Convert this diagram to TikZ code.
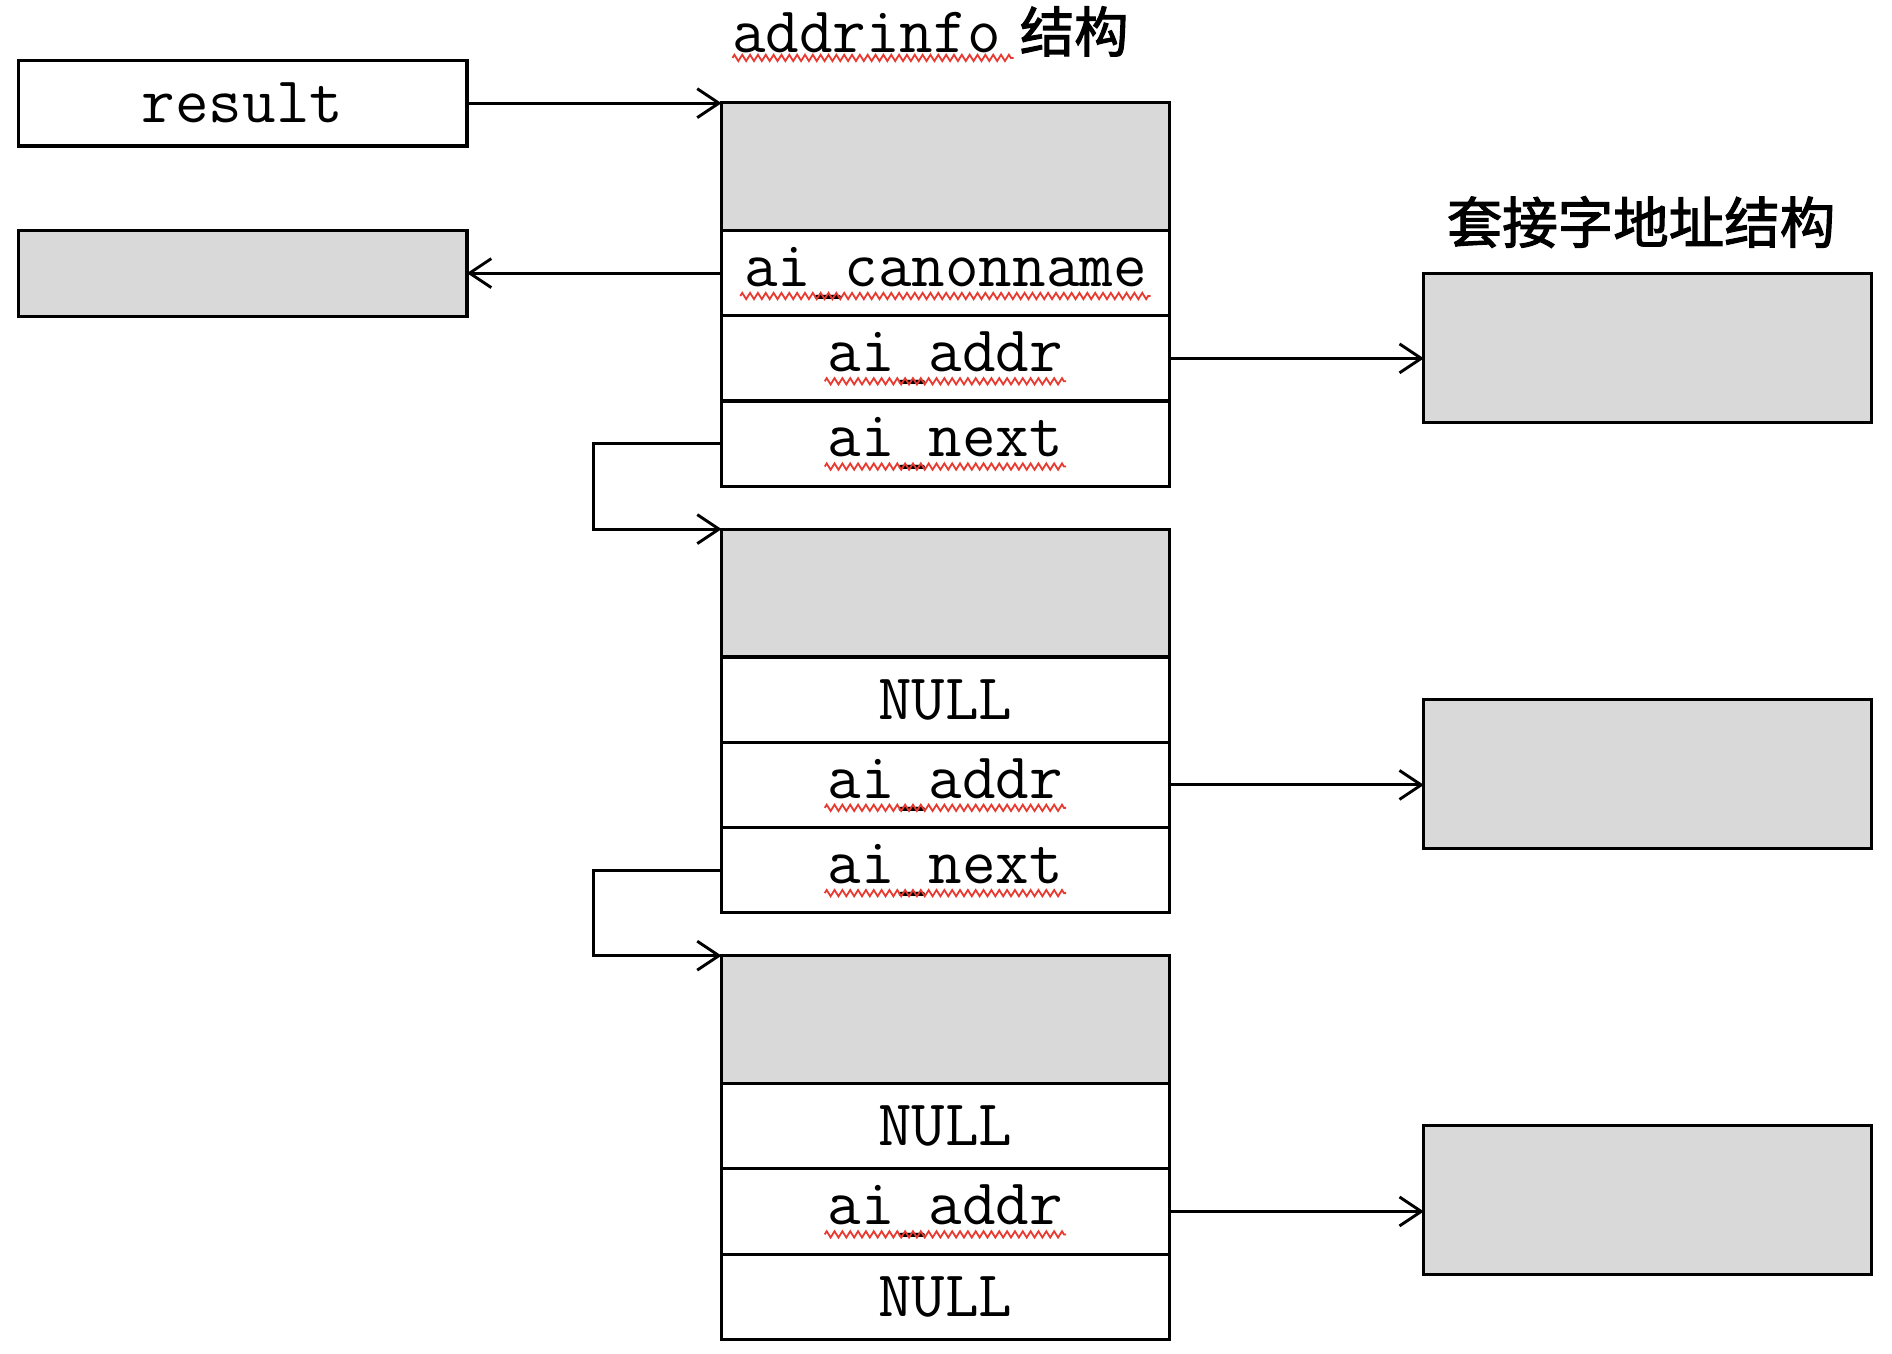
\documentclass[tikz,border=0pt]{standalone}
\usepackage{fontspec}
\newfontfamily\cjk{Noto Sans CJK SC}[FakeBold=2]
\usetikzlibrary{arrows.meta,decorations.pathmorphing,calc}
\definecolor{cellgrey}{RGB}{217,217,217}
\definecolor{squigred}{RGB}{232,58,48}
\begin{document}
\begin{tikzpicture}[x=1pt,y=-1pt,
  box/.style={draw, line width=2.6pt, rectangle, inner sep=0pt, outer sep=0pt,
    minimum width=371pt, font=\fontsize{54}{60}\selectfont\ttfamily},
  head/.style={box, fill=cellgrey, minimum height=106pt},
  row/.style={box, minimum height=70.67pt},
  sock/.style={box, fill=cellgrey, minimum height=123pt},
  arr/.style={line width=2.4pt, -{Straight Barb[length=18pt,width=24pt,line width=2.4pt]}},
  squig/.style={draw=squigred, line width=1.5pt, decorate,
    decoration={zigzag, segment length=6.5pt, amplitude=2.6pt}}]
\useasboundingbox (0,0) rectangle (1568,1122);

% left boxes
\node[box, minimum width=372pt, minimum height=71pt] (res) at (201,85.5) {result};
\node[box, fill=cellgrey, minimum width=372pt, minimum height=71pt] (cn) at (201,226.5) {};

% block 1
\node[head] (b1h) at (783.5,138) {};
\node[row] (b1c) at (783.5,226.33) {ai\_canonname};
\node[row] (b1a) at (783.5,297) {ai\_addr};
\node[row] (b1n) at (783.5,367.67) {ai\_next};

% block 2
\node[head] (b2h) at (783.5,491.5) {};
\node[row] (b2c) at (783.5,579.83) {NULL};
\node[row] (b2a) at (783.5,650.5) {ai\_addr};
\node[row] (b2n) at (783.5,721.17) {ai\_next};

% block 3
\node[head] (b3h) at (783.5,845) {};
\node[row] (b3c) at (783.5,933.33) {NULL};
\node[row] (b3a) at (783.5,1004) {ai\_addr};
\node[row] (b3n) at (783.5,1074.67) {NULL};

% socket address boxes
\node[sock] (s1) at (1365.5,288.5) {};
\node[sock] (s2) at (1365.5,641.5) {};
\node[sock] (s3) at (1365.5,994.5) {};

% titles
\node (t1) at (771,26) {{\fontsize{54}{60}\selectfont\ttfamily addrinfo}\hspace{16pt}{\fontsize{45}{50}\selectfont\cjk 结构}};
\node (t2) at (1360,184) {\fontsize{46}{50}\selectfont\cjk 套接字地址结构};

% connectors
\draw[arr] (res.east) -- (res.east -| b1h.west);
\draw[arr] (b1c.west) -- (b1c.west -| cn.east);
\draw[arr] (b1a.east) -- (b1a.east -| s1.west);
\draw[arr] (b2a.east) -- (b2a.east -| s2.west);
\draw[arr] (b3a.east) -- (b3a.east -| s3.west);
\draw[arr] (b1n.west) -- ([xshift=-106pt]b1n.west) |- (b2h.north west);
\draw[arr] (b2n.west) -- ([xshift=-106pt]b2n.west) |- (b3h.north west);

% spell-check squiggles
\draw[squig] (607,48) -- (840,48);
\draw[squig] ($(b1c.center)+(-170,19)$) -- ($(b1c.center)+(170,19)$);
\draw[squig] ($(b1a.center)+(-100,19)$) -- ($(b1a.center)+(100,19)$);
\draw[squig] ($(b1n.center)+(-100,19)$) -- ($(b1n.center)+(100,19)$);
\draw[squig] ($(b2a.center)+(-100,19)$) -- ($(b2a.center)+(100,19)$);
\draw[squig] ($(b2n.center)+(-100,19)$) -- ($(b2n.center)+(100,19)$);
\draw[squig] ($(b3a.center)+(-100,19)$) -- ($(b3a.center)+(100,19)$);
\end{tikzpicture}
\end{document}
